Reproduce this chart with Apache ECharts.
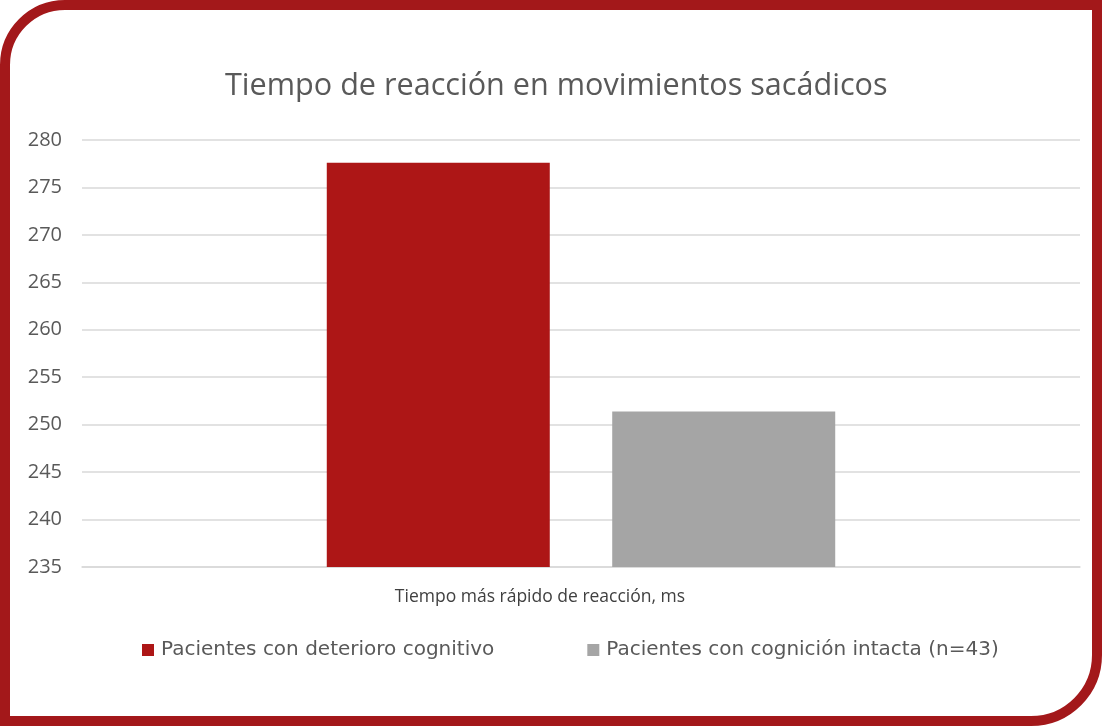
<!DOCTYPE html>
<html>
<head>
<meta charset="utf-8">
<script src="https://cdn.jsdelivr.net/npm/echarts@6/dist/echarts.min.js"></script>
<style>
    html, body { margin: 0; padding: 0; background: #ffffff; }
    #chart { width: 1102px; height: 726px; }
</style>
</head>
<body>
<div id="chart"></div>
<script>
const categories = ['Tiempo más rápido de reacción, ms'];
const deterioro = [277.6];
const intacta = [251.4];
const yTicks = { min: 235, max: 280, step: 5 };

const chart = echarts.init(document.getElementById('chart'));

const options = {
    backgroundColor: '#ffffff',
    title: {
        text: 'Tiempo de reacción en movimientos sacádicos',
        left: 220,
        top: 66,
        textStyle: {
            fontFamily: 'Open Sans',
            fontSize: 30.6,
            fontWeight: 'normal',
            color: '#595959'
        }
    },
    grid: { left: 82, right: 22, top: 140, bottom: 159 },
    legend: {
        left: 142,
        top: 640,
        padding: 0,
        itemWidth: 12,
        itemHeight: 12,
        itemGap: 93,
        icon: 'rect',
        textStyle: { fontFamily: 'DejaVu Sans', fontSize: 20, color: '#595959', padding: [0, 0, 0, 2] }
    },
    xAxis: {
        type: 'category',
        data: categories,
        axisTick: { show: false },
        axisLine: { lineStyle: { color: '#d9d9d9', width: 1.5 } },
        axisLabel: {
            margin: 21,
            padding: [0, 82, 0, 0],
            fontFamily: 'Open Sans',
            fontSize: 17.5,
            color: '#404040'
        }
    },
    yAxis: {
        type: 'value',
        min: yTicks.min,
        max: yTicks.max,
        interval: yTicks.step,
        axisLine: { show: false },
        axisTick: { show: false },
        splitLine: { lineStyle: { color: '#d9d9d9', width: 1.5 } },
        axisLabel: { margin: 20, fontFamily: 'Open Sans', fontSize: 20, color: '#595959' }
    },
    series: [
        {
            name: 'Pacientes con deterioro cognitivo',
            type: 'bar',
            data: deterioro,
            barWidth: 223,
            barGap: '28%',
            itemStyle: { color: '#ad1616' }
        },
        {
            name: 'Pacientes con cognición intacta (n=43)',
            type: 'bar',
            data: intacta,
            barWidth: 223,
            itemStyle: { color: '#a5a5a5' }
        }
    ],
    graphic: [
        {
            type: 'rect',
            silent: true,
            z: 100,
            shape: { x: 5, y: 5, width: 1092, height: 716, r: [60, 0, 66, 0] },
            style: { fill: null, stroke: '#a3181a', lineWidth: 10 }
        }
    ]
};

chart.setOption(options);

new ResizeObserver(() => chart.resize()).observe(document.getElementById('chart'));
</script>
</body>
</html>
